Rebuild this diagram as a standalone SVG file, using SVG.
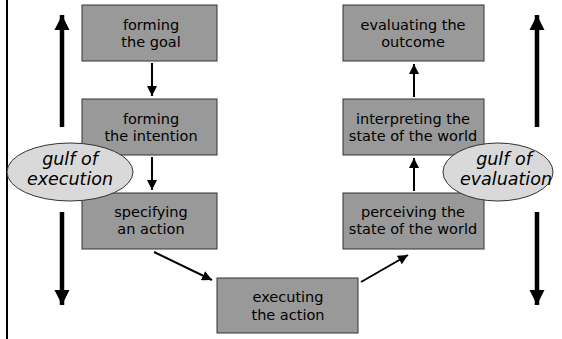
<svg xmlns="http://www.w3.org/2000/svg" width="562" height="339" viewBox="0 0 562 339">
<style>
.box{fill:#999999;stroke:#333333;stroke-width:1}
.t{font-family:"DejaVu Sans","Liberation Sans",sans-serif;font-size:14.5px;fill:#000;text-anchor:middle}
.g{font-family:"DejaVu Sans","Liberation Sans",sans-serif;font-size:17.5px;font-style:italic;fill:#000;text-anchor:middle}
.ell{fill:#d9d9d9;stroke:#333333;stroke-width:1}
.c{stroke:#000;stroke-width:2;fill:none}
.big{stroke:#000;stroke-width:4.5;fill:none}
</style>
<defs>
<marker id="ah" viewBox="0 0 10 10" refX="10" refY="5" markerWidth="5" markerHeight="5" markerUnits="strokeWidth" orient="auto">
<path d="M0,0 L10,5 L0,10 z" fill="#000"/>
</marker>
<marker id="bh" viewBox="0 0 10 10" refX="10" refY="5" markerWidth="3.4" markerHeight="3.4" markerUnits="strokeWidth" orient="auto">
<path d="M0,0 L10,5 L0,10 z" fill="#000"/>
</marker>
</defs>
<line x1="7" y1="0" x2="7" y2="339" stroke="#000" stroke-width="2"/>
<g id="connectors">
<line class="c" x1="152" y1="63" x2="152" y2="96" marker-end="url(#ah)"/>
<line class="c" x1="152" y1="157" x2="152" y2="190" marker-end="url(#ah)"/>
<line class="c" x1="154" y1="252" x2="212" y2="280" marker-end="url(#ah)"/>
<line class="c" x1="361" y1="282" x2="408" y2="255" marker-end="url(#ah)"/>
<line class="c" x1="414" y1="191" x2="414" y2="158" marker-end="url(#ah)"/>
<line class="c" x1="414" y1="97" x2="414" y2="64" marker-end="url(#ah)"/>
<line class="big" x1="62" y1="127" x2="62" y2="15" marker-end="url(#bh)"/>
<line class="big" x1="62" y1="212" x2="62" y2="305" marker-end="url(#bh)"/>
<line class="big" x1="537" y1="127" x2="537" y2="15" marker-end="url(#bh)"/>
<line class="big" x1="537" y1="212" x2="537" y2="305" marker-end="url(#bh)"/>
</g>
<g id="goal"><rect class="box" x="82" y="5" width="135" height="56"/><text class="t" x="151" y="30">forming</text><text class="t" x="151" y="47">the goal</text></g>
<g id="intention"><rect class="box" x="82" y="99" width="135" height="56"/><text class="t" x="151" y="124">forming</text><text class="t" x="151" y="141">the intention</text></g>
<g id="specifying"><rect class="box" x="82" y="193" width="135" height="56"/><text class="t" x="151" y="217">specifying</text><text class="t" x="151" y="234">an action</text></g>
<g id="executing"><rect class="box" x="217" y="278" width="141" height="55"/><text class="t" x="288" y="302">executing</text><text class="t" x="288" y="320">the action</text></g>
<g id="evaluating"><rect class="box" x="343" y="5" width="141" height="56"/><text class="t" x="413" y="30">evaluating the</text><text class="t" x="413" y="47">outcome</text></g>
<g id="interpreting"><rect class="box" x="343" y="99" width="141" height="56"/><text class="t" x="413" y="124">interpreting the</text><text class="t" x="413" y="141">state of the world</text></g>
<g id="perceiving"><rect class="box" x="343" y="193" width="141" height="56"/><text class="t" x="413" y="217">perceiving the</text><text class="t" x="413" y="234">state of the world</text></g>
<g id="gulf-execution"><ellipse class="ell" cx="70" cy="172" rx="63" ry="29"/><text class="g" x="70" y="165">gulf of</text><text class="g" x="70" y="185">execution</text></g>
<g id="gulf-evaluation"><ellipse class="ell" cx="498" cy="172" rx="55" ry="29"/><text class="g" x="504" y="165">gulf of</text><text class="g" x="506" y="185">evaluation</text></g>
</svg>
